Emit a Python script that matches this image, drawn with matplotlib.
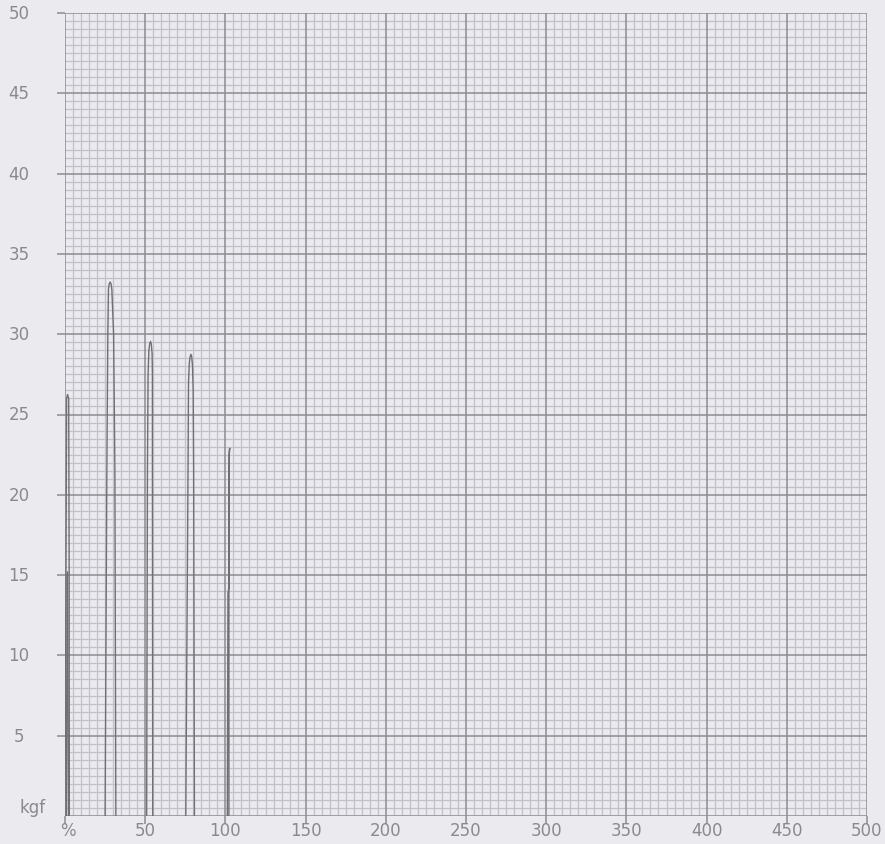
import matplotlib.pyplot as plt
import numpy as np

# load (kgf) vs elongation (%) traces
c1_x = [0.0, 0.6, 1.0, 1.6, 2.3, 2.6, 2.7]
c1_y = [0.0, 15.0, 26.0, 26.25, 26.0, 15.0, 0.0]
c1b_x = [0.9, 1.3, 1.6, 2.2]
c1b_y = [0.0, 15.0, 15.2, 0.0]
c2_x = [25.0, 25.6, 26.1, 26.7, 27.1, 27.6, 28.2, 28.8, 29.2, 30.3, 31.1, 31.7]
c2_y = [0.0, 12.0, 21.6, 30.0, 32.8, 33.15, 33.25, 33.1, 32.8, 30.0, 21.6, 0.0]
c3_x = [50.9, 51.4, 51.8, 52.3, 52.8, 53.3, 53.8, 54.3, 54.5, 54.5, 54.7]
c3_y = [0.0, 21.6, 27.5, 29.0, 29.4, 29.55, 29.4, 28.8, 27.5, 21.6, 0.0]
c4_x = [75.3, 76.7, 77.0, 77.5, 78.0, 78.5, 79.0, 79.5, 79.9, 80.2, 80.7]
c4_y = [0.0, 21.6, 27.0, 28.2, 28.6, 28.75, 28.6, 28.0, 26.5, 21.6, 0.0]
c5_x = [101.2, 101.6, 102.1, 102.4, 102.8, 102.4, 102.2, 102.2]
c5_y = [0.0, 13.9, 14.2, 22.8, 22.9, 22.5, 14.0, 0.0]

x_ticks = [0, 50, 100, 150, 200, 250, 300, 350, 400, 450, 500]
x_labels = ['%', '50', '100', '150', '200', '250', '300', '350', '400', '450', '500']
y_ticks = [5, 10, 15, 20, 25, 30, 35, 40, 45, 50]

paper = '#ebeaef'
major = '#8b8b90'
minor = '#c2c1c9'
ink = '#707074'
text_c = '#8a8a8e'

fig = plt.figure(figsize=(8.85, 8.45), dpi=100)
fig.patch.set_facecolor(paper)
ax = fig.add_axes([65 / 885, 28 / 845, 802 / 885, 803 / 845])
ax.set_facecolor(paper)
ax.set_xlim(0, 500)
ax.set_ylim(0, 50)

# graph paper grid
for v in np.arange(0, 501, 5):
    if v % 50:
        ax.axvline(v, color=minor, lw=0.9, zorder=1)
for v in np.arange(0, 50.01, 0.5):
    if round(v * 2) % 10:
        ax.axhline(v, color=minor, lw=0.9, zorder=1)
for v in x_ticks:
    ax.axvline(v, color=major, lw=1.1, zorder=2)
for v in [0] + y_ticks:
    ax.axhline(v, color=major, lw=1.1, zorder=2)

for s in ax.spines.values():
    s.set_visible(False)
ax.set_xticks(x_ticks)
ax.set_yticks(y_ticks)
ax.set_xticklabels([])
ax.set_yticklabels([])
ax.tick_params(length=6, width=1.1, color=major, direction='out')

for xs, ys in [(c1_x, c1_y), (c1b_x, c1b_y), (c2_x, c2_y), (c3_x, c3_y),
               (c4_x, c4_y), (c5_x, c5_y)]:
    ax.plot(xs, ys, color=ink, lw=1.0, zorder=5)

# labels
for v, lab in zip(x_ticks, x_labels):
    dx = 3 if lab == '%' else 0
    ax.annotate(lab, (v, 0), xytext=(dx, -14), textcoords='offset pixels',
                ha='center', va='center', fontsize=12, color=text_c,
                annotation_clip=False)
for v in y_ticks:
    ax.annotate(str(v), (0, v), xytext=(-46, 0), textcoords='offset pixels',
                ha='center', va='center', fontsize=12, color=text_c,
                annotation_clip=False)
ax.annotate('kgf', (0, 0), xytext=(-32, 9), textcoords='offset pixels',
            ha='center', va='center', fontsize=12, color=text_c,
            annotation_clip=False)

plt.savefig('out.png', dpi=100, facecolor=paper)
